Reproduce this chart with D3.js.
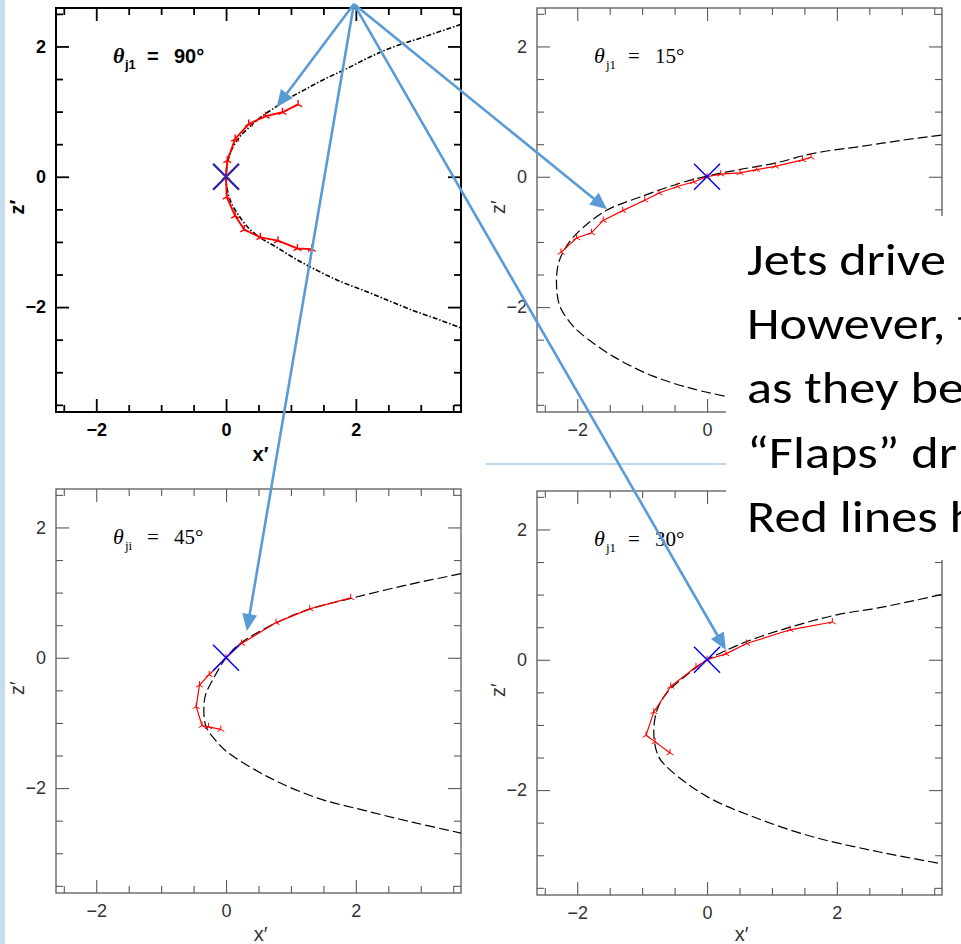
<!DOCTYPE html>
<html>
<head>
<meta charset="utf-8">
<script src="https://cdn.jsdelivr.net/npm/d3@7"></script>
<style>
  html, body { margin: 0; padding: 0; background: #fff; overflow: hidden; }
  svg { display: block; }
</style>
</head>
<body>
<svg id="chart" width="961" height="944"></svg>
<script>
// ---- axis ticks ----
const xMajor = [-2, 0, 2];
const xMinor = [-2.5, -1.5, -1, -0.5, 0.5, 1, 1.5, 2.5, 3, 3.5];
const zMajor = [-2, 0, 2];
const zMinor = [-3.5, -3, -2.5, -1.5, -1, -0.5, 0.5, 1, 1.5, 2.5];

// ---- panel labels: jet angle ----
const angleText = ["90°", "15°", "45°", "30°"];
const angleSub  = ["j1", "j1", "ji", "j1"];

// ---- bow-shock curves (x', z') ----
const shock90 = [[3.62,2.34],[3.0,2.13],[2.57,1.99],[2.2,1.83],[1.86,1.66],[1.5,1.49],[1.2,1.33],[0.96,1.2],[0.78,1.08],[0.57,0.94],[0.38,0.78],[0.2,0.6],[0.08,0.4],[0.02,0.2],[0,0],[0.02,-0.2],[0.08,-0.4],[0.2,-0.6],[0.36,-0.8],[0.55,-0.95],[0.76,-1.07],[1.0,-1.22],[1.29,-1.38],[1.7,-1.58],[2.16,-1.76],[2.55,-1.92],[2.93,-2.07],[3.3,-2.2],[3.62,-2.32]];
const shock15 = [[3.61,0.64],[3.0,0.56],[2.4,0.47],[1.64,0.36],[1.05,0.21],[0.5,0.11],[0,0.01],[-0.42,-0.1],[-1.03,-0.31],[-1.54,-0.51],[-1.9,-0.77],[-2.12,-1.0],[-2.28,-1.3],[-2.32,-1.62],[-2.27,-1.98],[-2.1,-2.25],[-1.95,-2.4],[-1.44,-2.76],[-0.83,-3.06],[-0.2,-3.26],[0.29,-3.37],[0.8,-3.47]];
const shock45 = [[3.62,1.29],[2.8,1.12],[1.96,0.92],[1.3,0.75],[0.78,0.54],[0.22,0.22],[0,0],[-0.2,-0.33],[-0.31,-0.55],[-0.34,-0.72],[-0.31,-1.05],[-0.15,-1.28],[0.01,-1.44],[0.63,-1.82],[1.4,-2.15],[2.16,-2.35],[2.9,-2.53],[3.62,-2.69]];
const shock30 = [[3.61,1.0],[2.66,0.8],[2.0,0.69],[1.28,0.5],[0.61,0.28],[0.2,0.1],[0,0],[-0.31,-0.23],[-0.62,-0.51],[-0.77,-0.77],[-0.82,-1.13],[-0.75,-1.48],[-0.57,-1.69],[0,-2.1],[0.71,-2.41],[1.64,-2.72],[2.66,-2.95],[3.61,-3.13]];

// ---- jet tracks (x', z') ----
const jet90 = [[1.11,1.11],[0.87,0.99],[0.61,0.93],[0.35,0.81],[0.14,0.58],[0.02,0.25],[0,0],[0.01,-0.31],[0.14,-0.6],[0.28,-0.81],[0.53,-0.93],[0.8,-0.98],[1.1,-1.1],[1.32,-1.11]];
const jet15 = [[-2.25,-1.16],[-2.01,-0.94],[-1.78,-0.86],[-1.6,-0.67],[-1.3,-0.52],[-0.96,-0.36],[-0.74,-0.25],[-0.46,-0.15],[-0.21,-0.08],[0,0],[0.21,0.04],[0.51,0.06],[0.76,0.11],[1.05,0.16],[1.47,0.26],[1.6,0.3]];
const jet45 = [[1.92,0.92],[1.29,0.75],[0.77,0.54],[0.24,0.22],[0,0],[-0.26,-0.26],[-0.41,-0.42],[-0.46,-0.75],[-0.37,-1.04],[-0.27,-1.06],[-0.08,-1.1]];
const jet30 = [[1.93,0.58],[1.28,0.46],[0.61,0.25],[0.29,0.09],[0,0],[-0.17,-0.11],[-0.56,-0.41],[-0.82,-0.8],[-0.94,-1.16],[-0.8,-1.26],[-0.57,-1.43]];

// ---- callout arrows: [panel, x', z'] ----
const arrowTail = [0, 1.97, 2.65];
const arrowTips = [[0, 0.78, 1.07], [1, -1.54, -0.5], [2, 0.32, 0.41], [3, 0.29, 0.15]];

// ---- slide text ----
const textLines = ["Jets drive", "However, t", "as they be", "\u201CFlaps\u201D dr", "Red lines h"];

// ---- layout ----
const W = 405, H = 404;
const xDomain = [-2.62, 3.62], zDomain = [-3.61, 2.59];
const frames = [
  { left: 56,  top: 8,   xLabels: xMajor, xTitle: true },
  { left: 537, top: 8,   xLabels: [-2, 0], xTitle: false },   // right side sits under the text box
  { left: 56,  top: 489, xLabels: xMajor, xTitle: true },
  { left: 537, top: 491, xLabels: xMajor, xTitle: true }
];
const shocks = [shock90, shock15, shock45, shock30];
const jets = [jet90, jet15, jet45, jet30];

const heavy = {
  frame: "#000", frameW: 2, tickW: 1.8, font: "'Liberation Sans', Arial, sans-serif",
  weight: "bold", labelFill: "#000", thetaFont: "'Liberation Sans', Arial, sans-serif", thetaSize: 20,
  shockDash: "5,2,1.5,2", shockW: 1.6, jetW: 1.9, crossColor: "#2e22a6", crossW: 2.4, markS: 4.5, markW: 1.4
};
const light = {
  frame: "#5a5a5a", frameW: 1.3, tickW: 1.1, font: "'Liberation Sans', Arial, sans-serif",
  weight: "normal", labelFill: "#333", thetaFont: "'Liberation Serif', 'Times New Roman', serif", thetaSize: 21,
  shockDash: "10,4", shockW: 1.2, jetW: 1.2, crossColor: "#0000ff", crossW: 1.4, markS: 4, markW: 1
};
const styles = [heavy, light, light, light];

const svg = d3.select("#chart");

// slide accent strip on the left
svg.append("rect").attr("x", 0).attr("y", 0).attr("width", 5).attr("height", 944).attr("fill", "#c8dcf0");

const scales = frames.map(f => ({
  x: d3.scaleLinear().domain(xDomain).range([f.left, f.left + W]),
  z: d3.scaleLinear().domain(zDomain).range([f.top + H, f.top])
}));

const fmt = d3.format("d");

frames.forEach((f, i) => {
  const st = styles[i];
  const xs = scales[i].x, zs = scales[i].z;
  const g = svg.append("g");

  const clipId = "clip" + i;
  svg.append("clipPath").attr("id", clipId)
    .append("rect").attr("x", f.left).attr("y", f.top).attr("width", W).attr("height", H);

  // major + minor ticks on all four sides, pointing inward; labels bottom and left
  const sides = [
    [d3.axisBottom, xs, 0, f.top + H, f.xLabels, 11],
    [d3.axisTop, xs, 0, f.top, null, 0],
    [d3.axisLeft, zs, f.left, 0, zMajor, 10],
    [d3.axisRight, zs, f.left + W, 0, null, 0]
  ];
  sides.forEach(([mk, sc, tx, ty, labels, pad], k) => {
    const isX = k < 2;
    const majVals = isX ? xMajor : zMajor;
    const maj = mk(sc).tickValues(majVals).tickSize(-13).tickPadding(pad)
      .tickFormat(d => (labels && labels.includes(d)) ? fmt(d) : "");
    const ag = g.append("g").attr("transform", `translate(${tx},${ty})`).call(maj);
    const mnr = mk(sc).tickValues(isX ? xMinor : zMinor).tickSize(-7).tickFormat(() => "");
    const ag2 = g.append("g").attr("transform", `translate(${tx},${ty})`).call(mnr);
    [ag, ag2].forEach(s => {
      s.select(".domain").remove();
      s.selectAll(".tick line").attr("stroke", st.frame).attr("stroke-width", st.tickW);
      s.selectAll(".tick text").attr("fill", st.labelFill).attr("font-family", st.font)
        .attr("font-weight", st.weight).attr("font-size", 18);
    });
    ag2.selectAll(".tick text").remove();
    ag.selectAll(".tick text").filter(function () { return this.textContent === ""; }).remove();
  });

  // frame
  g.append("rect").attr("x", f.left).attr("y", f.top).attr("width", W).attr("height", H)
    .attr("fill", "none").attr("stroke", st.frame).attr("stroke-width", st.frameW);

  // axis titles
  if (f.xTitle) {
    g.append("text").attr("x", f.left + W / 2 + 2).attr("y", Math.min(f.top + H + 49, 941))
      .attr("text-anchor", "middle").attr("font-family", st.font).attr("font-weight", st.weight)
      .attr("font-size", 20).attr("fill", st.labelFill).text("x\u2032");
  }
  g.append("text").attr("transform", `translate(${f.left - 32},${f.top + H / 2 - 3}) rotate(-90)`)
    .attr("text-anchor", "middle").attr("font-family", st.font).attr("font-weight", st.weight)
    .attr("font-size", 20).attr("fill", st.labelFill).text("z\u2032");

  // jet angle label
  const t = g.append("text").attr("y", f.top + 55).attr("fill", "#000")
    .attr("font-family", st.thetaFont).attr("font-weight", st.weight).attr("font-size", st.thetaSize);
  t.append("tspan").attr("x", f.left + 57).attr("font-style", "italic")
    .attr("font-family", "'Liberation Serif', serif").attr("font-size", 22).text("\u03B8");
  t.append("tspan").attr("x", f.left + 69).attr("dy", 6).attr("font-size", 13).text(angleSub[i]);
  t.append("tspan").attr("x", f.left + 91).attr("dy", -6).text("=");
  t.append("tspan").attr("x", f.left + 118).text(angleText[i]);

  const plot = g.append("g").attr("clip-path", `url(#${clipId})`);

  // bow shock
  const line = d3.line().x(d => xs(d[0])).y(d => zs(d[1])).curve(d3.curveCatmullRom.alpha(0.5));
  plot.append("path").datum(shocks[i]).attr("d", line).attr("fill", "none")
    .attr("stroke", "#000").attr("stroke-width", st.shockW).attr("stroke-dasharray", st.shockDash);

  // jet track with markers
  const jline = d3.line().x(d => xs(d[0])).y(d => zs(d[1]));
  plot.append("path").datum(jets[i]).attr("d", jline).attr("fill", "none")
    .attr("stroke", "#ff0000").attr("stroke-width", st.jetW);
  const s = st.markS;
  plot.selectAll(".mk").data(jets[i]).join("path")
    .attr("transform", d => `translate(${xs(d[0])},${zs(d[1])})`)
    .attr("d", `M0,${-s}L0,0M${-s * 0.87},${s * 0.5}L0,0L${s * 0.87},${s * 0.5}`)
    .attr("stroke", "#ff0000").attr("stroke-width", st.markW).attr("fill", "none");

  // source position
  plot.append("path").attr("transform", `translate(${xs(0)},${zs(0)})`)
    .attr("d", "M-13,-13L13,13M-13,13L13,-13")
    .attr("stroke", st.crossColor).attr("stroke-width", st.crossW).attr("fill", "none");
});

// slide text box over the right-hand side
svg.append("rect").attr("x", 726).attr("y", 216).attr("width", 240).attr("height", 344).attr("fill", "#fff");
svg.append("line").attr("x1", 486).attr("x2", 726).attr("y1", 464).attr("y2", 464)
  .attr("stroke", "#bdd7ee").attr("stroke-width", 2);
const tg = svg.append("g");
const lines = tg.selectAll("text").data(textLines).join("text")
  .attr("x", 0).attr("y", (d, i) => i * 64.2)
  .attr("font-family", "Carlito, Lato, 'Open Sans', sans-serif").attr("font-size", 45)
  .attr("fill", "#000").text(d => d);
// Calibri-like width: first line spans about 199px
const w0 = lines.node().getComputedTextLength();
const sx = w0 > 0 ? 199 / w0 : 1;
tg.attr("transform", `translate(747,275) scale(${sx},1)`);

// callout arrows
const tail = [scales[arrowTail[0]].x(arrowTail[1]), scales[arrowTail[0]].z(arrowTail[2])];
const arrows = svg.append("g");
arrowTips.forEach(([p, x, z]) => {
  const tip = [scales[p].x(x), scales[p].z(z)];
  const dx = tip[0] - tail[0], dy = tip[1] - tail[1];
  const len = Math.hypot(dx, dy), ux = dx / len, uy = dy / len;
  const hl = 17, hw = 7.5;
  const base = [tip[0] - ux * hl, tip[1] - uy * hl];
  arrows.append("line").attr("x1", tail[0]).attr("y1", tail[1]).attr("x2", base[0] + ux * 2).attr("y2", base[1] + uy * 2)
    .attr("stroke", "#5b9bd5").attr("stroke-width", 2.6);
  arrows.append("path")
    .attr("d", `M${tip[0]},${tip[1]}L${base[0] - uy * hw},${base[1] + ux * hw}L${base[0] + uy * hw},${base[1] - ux * hw}Z`)
    .attr("fill", "#5b9bd5");
});
</script>
</body>
</html>
